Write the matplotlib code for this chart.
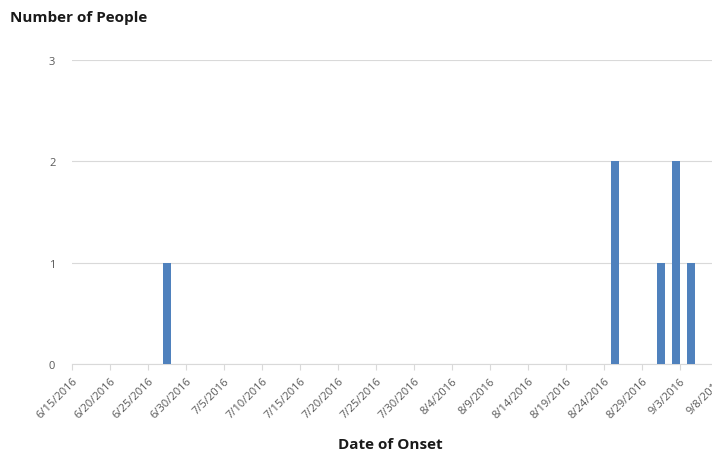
import matplotlib
matplotlib.use('Agg')
import matplotlib.pyplot as plt
import matplotlib.dates as mdates
import numpy as np
import datetime as dt

onset_dates = ['2016-06-27', '2016-08-25', '2016-08-31', '2016-09-02', '2016-09-04']
people = [1, 2, 1, 2, 1]
y_ticks = [0, 1, 2, 3]
axis_start = '2016-06-15'
axis_end = '2016-09-13'

plt.rcParams['font.family'] = ['Open Sans', 'DejaVu Sans']

fig = plt.figure(figsize=(7.12, 4.64), dpi=100)
# axis runs off the right edge of the picture, like the cropped original
ax = fig.add_axes([72 / 712, 99 / 464, 684 / 712, 304 / 464])

x = [mdates.date2num(dt.datetime.fromisoformat(d)) + 0.5 for d in onset_dates]
ax.bar(x, people, width=1.05, color='#4F81BD', zorder=3)

start = mdates.date2num(dt.datetime.fromisoformat(axis_start))
end = mdates.date2num(dt.datetime.fromisoformat(axis_end))
ax.set_xlim(start, end)
ax.set_ylim(0, 3)

ticks = np.arange(start, end, 5)
ax.set_xticks(ticks)
labels = []
for t in ticks:
    d = mdates.num2date(t)
    labels.append(f'{d.month}/{d.day}/{d.year}')
ax.set_xticklabels(labels, rotation=45, ha='right', rotation_mode='anchor',
                   fontsize=8, color='#595959')
ax.tick_params(axis='x', length=4, color='#D9D9D9', pad=4)

ax.set_yticks(y_ticks)
ax.set_yticklabels([str(v) for v in y_ticks], fontsize=8, color='#595959')
ax.tick_params(axis='y', length=0, pad=12)

ax.grid(axis='y', color='#D9D9D9', linewidth=0.8, zorder=0)
for s in ['top', 'right', 'left']:
    ax.spines[s].set_visible(False)
ax.spines['bottom'].set_color('#D9D9D9')

fig.text(10 / 712, 1 - 18 / 464, 'Number of People', fontsize=11, fontweight='bold',
         va='center', ha='left', color='#1a1a1a')
fig.text(390 / 712, 1 - 445 / 464, 'Date of Onset', fontsize=11, fontweight='bold',
         va='center', ha='center', color='#1a1a1a')

fig.savefig('out.png', dpi=100)
